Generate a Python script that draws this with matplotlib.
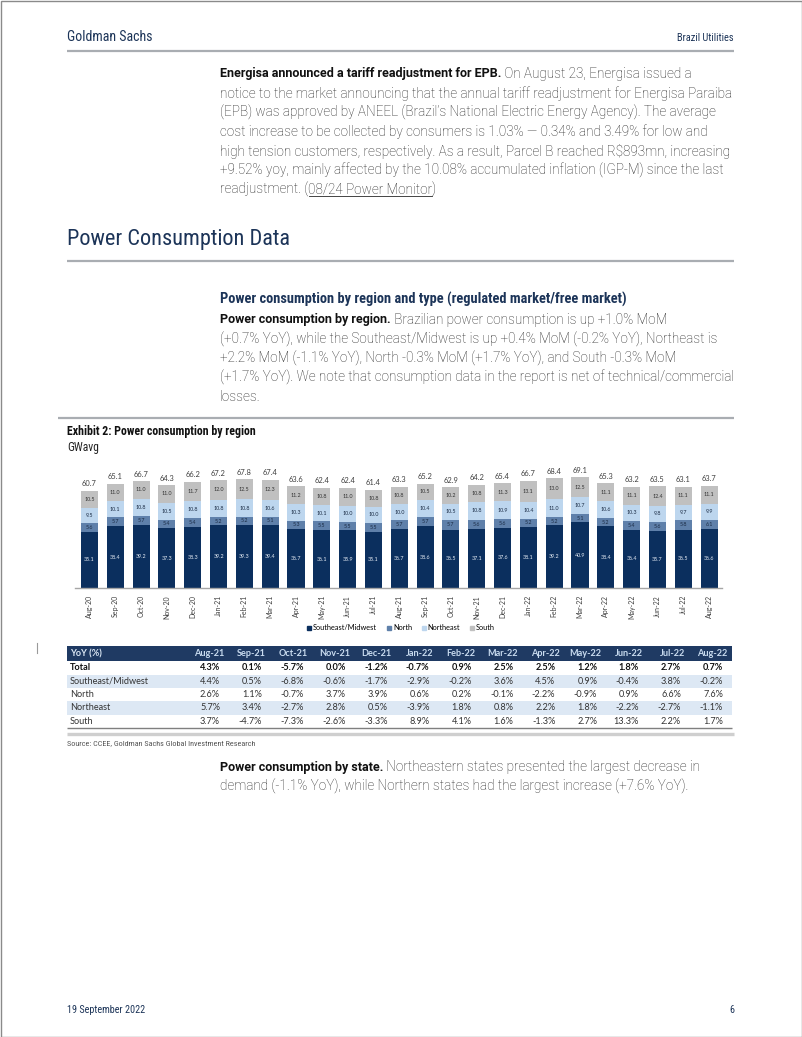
import numpy as np
import matplotlib.pyplot as plt
from matplotlib.patches import Rectangle

# Page size in pixels (dpi 100)
W, H = 802, 1037

# CHART DATA (GWavg)
MONTHS = ["Aug-20", "Sep-20", "Oct-20", "Nov-20", "Dec-20", "Jan-21", "Feb-21",
          "Mar-21", "Apr-21", "May-21", "Jun-21", "Jul-21", "Aug-21", "Sep-21",
          "Oct-21", "Nov-21", "Dec-21", "Jan-22", "Feb-22", "Mar-22", "Apr-22",
          "May-22", "Jun-22", "Jul-22", "Aug-22"]
SE_MW = [35.1, 38.4, 39.2, 37.3, 38.3, 39.2, 39.3, 39.4, 36.7, 36.1, 35.9, 35.1,
         36.7, 38.6, 36.5, 37.1, 37.6, 38.1, 39.2, 40.9, 38.4, 36.4, 35.7, 36.5, 36.6]
NORTH = [5.6, 5.7, 5.7, 5.4, 5.4, 5.2, 5.2, 5.1, 5.3, 5.5, 5.5, 5.5,
         5.7, 5.7, 5.7, 5.6, 5.6, 5.2, 5.2, 5.1, 5.2, 5.4, 5.6, 5.8, 6.1]
NORTHEAST = [9.5, 10.1, 10.8, 10.5, 10.8, 10.8, 10.8, 10.6, 10.3, 10.1, 10.0, 10.0,
             10.0, 10.4, 10.5, 10.8, 10.9, 10.4, 11.0, 10.7, 10.6, 10.3, 9.8, 9.7, 9.9]
SOUTH = [10.5, 11.0, 11.0, 11.0, 11.7, 12.0, 12.5, 12.3, 11.2, 10.8, 11.0, 10.8,
         10.8, 10.5, 10.2, 10.8, 11.3, 13.1, 13.0, 12.5, 11.1, 11.1, 12.4, 11.1, 11.1]
TOTALS = [60.7, 65.1, 66.7, 64.3, 66.2, 67.2, 67.8, 67.4, 63.6, 62.4, 62.4, 61.4,
          63.3, 65.2, 62.9, 64.2, 65.4, 66.7, 68.4, 69.1, 65.3, 63.2, 63.5, 63.1, 63.7]

SERIES_NAMES = ["Southeast/Midwest", "North", "Northeast", "South"]

# TABLE DATA (YoY %)
TABLE_COLS = ["Aug-21", "Sep-21", "Oct-21", "Nov-21", "Dec-21", "Jan-22", "Feb-22",
              "Mar-22", "Apr-22", "May-22", "Jun-22", "Jul-22", "Aug-22"]
TABLE_ROWS = ["Total", "Southeast/Midwest", "North", "Northeast", "South"]
YOY_TOTAL = [4.3, 0.1, -5.7, 0.0, -1.2, -0.7, 0.9, 2.5, 2.5, 1.2, 1.8, 2.7, 0.7]
YOY_SE = [4.4, 0.5, -6.8, -0.6, -1.7, -2.9, -0.2, 3.6, 4.5, 0.9, -0.4, 3.8, -0.2]
YOY_N = [2.6, 1.1, -0.7, 3.7, 3.9, 0.6, 0.2, -0.1, -2.2, -0.9, 0.9, 6.6, 7.6]
YOY_NE = [5.7, 3.4, -2.7, 2.8, 0.5, -3.9, 1.8, 0.8, 2.2, 1.8, -2.2, -2.7, -1.1]
YOY_S = [3.7, -4.7, -7.3, -2.6, -3.3, 8.9, 4.1, 1.6, -1.3, 2.7, 13.3, 2.2, 1.7]

# STYLE
NAVY = "#1c3458"
BODY = "#262626"
RULE = "#a9adb2"
C_SE, C_N, C_NE, C_S = "#0b2f5e", "#5f80aa", "#bdd6ee", "#c0c0c0"
BODY_FONT = ["Roboto", "DejaVu Sans"]
COND_FONT = ["Liberation Sans Narrow", "Roboto Condensed", "DejaVu Sans"]
TAB_FONT = ["Lato", "DejaVu Sans"]

fig = plt.figure(figsize=(W / 100, H / 100), dpi=100)
page = fig.add_axes([0, 0, 1, 1])
page.set_xlim(0, W)
page.set_ylim(H, 0)
page.axis("off")
renderer = fig.canvas.get_renderer()

page.add_patch(Rectangle((0.5, 0.5), W - 1, H - 1, fill=False, ec="#8a8a8a", lw=1))


def rule(y, x0=67, x1=734, lw=1.6, color=RULE):
    page.plot([x0, x1], [y, y], color=color, lw=lw, solid_capstyle="butt")


def rich_line(x, y, parts, size=9.75):
    """Dessine une ligne composée de segments (texte, style)."""
    for txt, style in parts:
        kw = dict(fontsize=size, family=BODY_FONT, color=BODY, weight="light")
        kw.update(style)
        underline = kw.pop("underline", False)
        t = page.text(x, y, txt, va="center", ha="left", **kw)
        w = t.get_window_extent(renderer).width
        if underline:
            page.plot([x + 1, x + w], [y + 6, y + 6], color=BODY, lw=0.6)
        x += w


BOLD = {"weight": "bold", "color": "#111111", "fontsize": 9.0}

# Header / footer
page.text(67, 37, "Goldman Sachs", family=COND_FONT, fontsize=10, color=NAVY, va="center")
page.text(734, 38, "Brazil Utilities", family=COND_FONT, fontsize=7.5, color=NAVY,
          va="center", ha="right")
rule(51)
page.text(67, 1010, "19 September 2022", family=COND_FONT, fontsize=7.3, color=NAVY, va="center")
page.text(734, 1010, "6", family=COND_FONT, fontsize=7.3, color=NAVY, va="center", ha="right")

# Paragraph 1
p1 = [
    [("Energisa announced a tariff readjustment for EPB.", BOLD),
     (" On August 23, Energisa issued a", {})],
    [("notice to the market announcing that the annual tariff readjustment for Energisa Paraiba", {})],
    [("(EPB) was approved by ANEEL (Brazil\u2019s National Electric Energy Agency). The average", {})],
    [("cost increase to be collected by consumers is 1.03% \u2014 0.34% and 3.49% for low and", {})],
    [("high tension customers, respectively. As a result, Parcel B reached R\\$893mn, increasing", {})],
    [("+9.52% yoy, mainly affected by the 10.08% accumulated inflation (IGP-M) since the last", {})],
    [("readjustment. (", {}), ("08/24 Power Monitor", {"underline": True}), (")", {})],
]
for i, parts in enumerate(p1):
    rich_line(220, 74 + i * 19.3, parts)

# Section heading
page.text(67, 240, "Power Consumption Data", family=COND_FONT, fontsize=16, color=NAVY, va="center")
rule(261)

page.text(220, 299, "Power consumption by region and type (regulated market/free market)",
          family=COND_FONT, fontsize=10.4, weight="bold", color=NAVY, va="center")
p2 = [
    [("Power consumption by region.", BOLD),
     (" Brazilian power consumption is up +1.0% MoM", {})],
    [("(+0.7% YoY), while the Southeast/Midwest is up +0.4% MoM (-0.2% YoY), Northeast is", {})],
    [("+2.2% MoM (-1.1% YoY), North -0.3% MoM (+1.7% YoY), and South -0.3% MoM", {})],
    [("(+1.7% YoY). We note that consumption data in the report is net of technical/commercial", {})],
    [("losses.", {})],
]
for i, parts in enumerate(p2):
    rich_line(220, 320 + i * 19.3, parts)
rule(418, x0=58)

# Exhibit title
page.text(67, 431, "Exhibit 2: Power consumption by region", family=COND_FONT, fontsize=8.6,
          weight="bold", color="#111111", va="center")
page.text(67, 447, "GWavg", family=COND_FONT, fontsize=8.4, color="#222222", va="center")

# CHART
ax = fig.add_axes([75 / W, 1 - 588 / H, (722 - 75) / W, (588 - 455) / H])
x = np.arange(len(MONTHS))
bottom = np.zeros(len(MONTHS))
label_colors = ["#e8eef6", "#1b2c45", "#1b2c45", "#333333"]
for vals, col, name, lc in zip([SE_MW, NORTH, NORTHEAST, SOUTH], [C_SE, C_N, C_NE, C_S],
                               SERIES_NAMES, label_colors):
    vals = np.array(vals)
    ax.bar(x, vals, 0.66, bottom=bottom, color=col, label=name)
    for xi, b, v in zip(x, bottom, vals):
        ax.text(xi, b + v / 2, f"{v:.1f}", ha="center", va="center", fontsize=3.9,
                color=lc, family=TAB_FONT)
    bottom += vals
for xi, b, t in zip(x, bottom, TOTALS):
    ax.text(xi, b + 2.2, f"{t:.1f}", ha="center", va="bottom", fontsize=5.4,
            color="#404040", family=TAB_FONT)

ax.set_xlim(-0.56, 24.5)
ax.set_ylim(0, 83)
for s in ["top", "right", "left"]:
    ax.spines[s].set_visible(False)
ax.spines["bottom"].set_color("#a6a6a6")
ax.spines["bottom"].set_linewidth(1.0)
ax.set_yticks([])
ax.set_xticks(x)
ax.set_xticklabels(MONTHS, rotation=90, fontsize=5, color="#404040", family=TAB_FONT)
ax.tick_params(axis="x", length=0, pad=5)

handles = [Rectangle((0, 0), 1, 1, color=c) for c in [C_SE, C_N, C_NE, C_S]]
fig.legend(handles, SERIES_NAMES, loc="center", bbox_to_anchor=(401 / W, 1 - 628 / H),
           ncol=4, frameon=False, prop={"family": TAB_FONT, "size": 5.3},
           handlelength=0.55, handleheight=0.55, handletextpad=0.3, columnspacing=1.3)

# tiny margin mark
page.plot([37, 37], [643, 653], color="#9a9a9a", lw=0.8)

# TABLE
tx0, tx1 = 67, 732
page.add_patch(Rectangle((tx0, 646), tx1 - tx0, 15, color="#1f3a63", lw=0))
col_right = np.linspace(224, 727, len(TABLE_COLS))
page.text(70, 653.5, "YoY (%)", family=TAB_FONT, fontsize=6.6, weight="bold",
          color="#dce8f5", va="center")
for cx, c in zip(col_right, TABLE_COLS):
    page.text(cx, 653.5, c, family=TAB_FONT, fontsize=6.6, weight="bold",
              color="#c9dcf0", va="center", ha="right")

row_vals = [YOY_TOTAL, YOY_SE, YOY_N, YOY_NE, YOY_S]
row_y = [668, 681.3, 694.6, 707.9, 721.2]
for i, (name, vals, ry) in enumerate(zip(TABLE_ROWS, row_vals, row_y)):
    if i in (1, 3):
        page.add_patch(Rectangle((tx0, ry - 6.6), tx1 - tx0, 13.3, color="#dde8f4", lw=0))
    wt = "bold" if i == 0 else "normal"
    col = "#111111" if i == 0 else "#333333"
    page.text(70, ry, name, family=TAB_FONT, fontsize=6.6, weight=wt, color=col, va="center")
    for cx, v in zip(col_right, vals):
        page.text(cx - 4, ry, f"{v:.1f}%", family=TAB_FONT, fontsize=6.6, weight=wt,
                  color=col, va="center", ha="right")
rule(727.8, x0=tx0, x1=tx1, lw=1.0, color="#7f7f7f")
rule(733.5, x0=tx0, x1=tx1 + 2, lw=2.4, color="#cfcfcf")

page.text(67, 743, "Source: CCEE, Goldman Sachs Global Investment Research", family=COND_FONT,
          fontsize=5.9, color="#555555", va="center")

# Paragraph 3
p3 = [
    [("Power consumption by state.", BOLD),
     (" Northeastern states presented the largest decrease in", {})],
    [("demand (-1.1% YoY), while Northern states had the largest increase (+7.6% YoY).", {})],
]
for i, parts in enumerate(p3):
    rich_line(220, 767 + i * 19.3, parts)

fig.savefig("out.png", dpi=100)
